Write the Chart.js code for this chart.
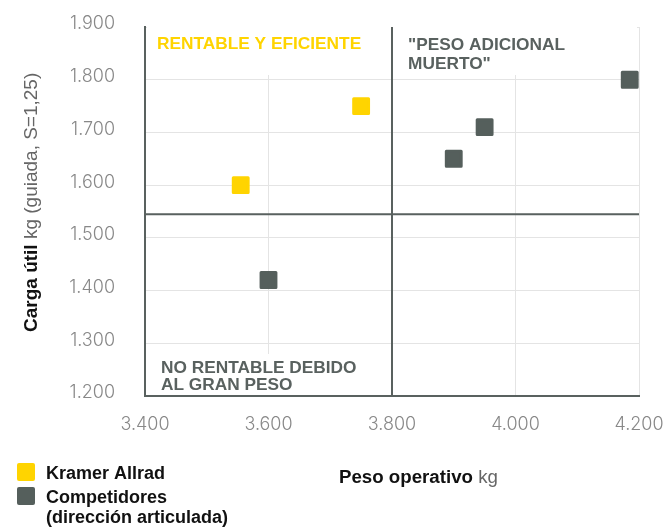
<!DOCTYPE html>
<html><head><meta charset="utf-8">
<script src="https://cdn.jsdelivr.net/npm/chart.js@4"></script>
<style>html,body{margin:0;padding:0;background:#fff}</style>
</head><body>
<canvas id="c" width="665" height="528" style="display:block;width:665px;height:528px"></canvas>
<script>
// ---- data ----
const kramerX = [3555, 3750];
const kramerY = [1600, 1750];
const compX = [3600, 3900, 3950, 4185];
const compY = [1420, 1650, 1710, 1800];
const seriesNames = [['Kramer Allrad'], ['Competidores', '(dirección articulada)']];
const xRange = [3400, 4200];
const xStep = 200;
const yRange = [1200, 1900];
const yStep = 100;
const quadrantX = 3800;
const quadrantY = 1545;
const labelTopLeft = ['RENTABLE Y EFICIENTE'];
const labelTopRight = ['"PESO ADICIONAL', 'MUERTO"'];
const labelBottomLeft = ['NO RENTABLE DEBIDO', 'AL GRAN PESO'];
const yTitle = ['Carga útil', ' kg (guiada, S=1,25)'];
const xTitle = ['Peso operativo', ' kg'];

const YELLOW = '#FFD400';
const GREY = '#555F5C';
const LINE = '#59615F';

function fmt(v) {
  const s = String(Math.round(v));
  return s.replace(/\B(?=(\d{3})+(?!\d))/g, '.');
}

const toPts = (xs, ys) => xs.map((x, i) => ({x, y: ys[i]}));

const overlay = {
  id: 'overlay',
  beforeDatasetsDraw(chart) {
    const ctx = chart.ctx;
    const a = chart.chartArea;
    const xs = chart.scales.x, ys = chart.scales.y;
    const qx = xs.getPixelForValue(quadrantX);
    const qy = ys.getPixelForValue(quadrantY);
    ctx.save();
    ctx.fillStyle = '#fff';
    ctx.fillRect(a.left + 2, a.top - 1, qx - a.left - 3, 49);
    ctx.fillRect(qx + 1, a.top - 1, a.right - qx - 3, 49);
    ctx.fillRect(a.left + 2, a.bottom - 42, qx - a.left - 3, 41);
    ctx.font = 'bold 17.3px "Liberation Sans"';
    ctx.textBaseline = 'alphabetic';
    ctx.fillStyle = YELLOW;
    labelTopLeft.forEach((t, i) => ctx.fillText(t, a.left + 12, a.top + 22 + i * 19));
    ctx.fillStyle = LINE;
    labelTopRight.forEach((t, i) => ctx.fillText(t, qx + 16, a.top + 23 + i * 19));
    labelBottomLeft.forEach((t, i) => ctx.fillText(t, a.left + 16, a.bottom - 23 + i * 17));
    ctx.strokeStyle = LINE;
    ctx.lineWidth = 2;
    ctx.beginPath();
    ctx.moveTo(qx, a.top);
    ctx.lineTo(qx, a.bottom);
    ctx.moveTo(a.left, qy);
    ctx.lineTo(a.right, qy);
    ctx.stroke();
    ctx.restore();
    ctx.lineJoin = 'round';
  },
  afterDraw(chart) {
    const ctx = chart.ctx;
    ctx.save();
    // y title
    ctx.translate(37, 332);
    ctx.rotate(-Math.PI / 2);
    ctx.textBaseline = 'alphabetic';
    ctx.font = 'bold 19px "Liberation Sans"';
    ctx.fillStyle = '#111';
    ctx.fillText(yTitle[0], 0, 0);
    let w = ctx.measureText(yTitle[0]).width;
    ctx.font = '19px "Liberation Sans"';
    ctx.fillStyle = '#666';
    ctx.fillText(yTitle[1], w, 0);
    ctx.restore();
    // x title
    ctx.save();
    ctx.textBaseline = 'alphabetic';
    ctx.font = 'bold 18.7px "Liberation Sans"';
    ctx.fillStyle = '#111';
    ctx.fillText(xTitle[0], 339, 483);
    w = ctx.measureText(xTitle[0]).width;
    ctx.font = '18.7px "Liberation Sans"';
    ctx.fillStyle = '#666';
    ctx.fillText(xTitle[1], 339 + w, 483);
    // legend
    const colors = chart.data.datasets.map(d => d.backgroundColor);
    const tops = [463, 487];
    ctx.font = 'bold 18px "Liberation Sans"';
    ctx.fillStyle = '#111';
    seriesNames.forEach((lines, i) => {
      ctx.save();
      ctx.fillStyle = colors[i];
      ctx.beginPath();
      ctx.roundRect(17, tops[i], 18, 18, 2);
      ctx.fill();
      ctx.restore();
      lines.forEach((t, j) => ctx.fillText(t, 46, tops[i] + 16 + j * 20));
    });
    ctx.restore();
  }
};

new Chart(document.getElementById('c'), {
  type: 'scatter',
  data: {
    datasets: [
      {label: seriesNames[0].join(' '), data: toPts(kramerX, kramerY), backgroundColor: YELLOW, borderColor: YELLOW},
      {label: seriesNames[1].join(' '), data: toPts(compX, compY), backgroundColor: GREY, borderColor: GREY}
    ]
  },
  options: {
    responsive: false,
    animation: false,
    devicePixelRatio: 1,
    layout: {padding: {left: 0, top: 27, right: 26, bottom: 0}},
    elements: {point: {pointStyle: 'rect', radius: 10.5, borderWidth: 3, hoverRadius: 10.5}},
    plugins: {legend: {display: false}, tooltip: {enabled: false}},
    scales: {
      x: {
        type: 'linear', min: xRange[0], max: xRange[1],
        ticks: {stepSize: xStep, padding: 18, color: '#888', font: {family: 'Inter', weight: 300, size: 18}, callback: v => fmt(v)},
        grid: {color: '#e4e4e4', lineWidth: 1, drawTicks: false},
        border: {color: LINE, width: 2},
        afterFit: s => { s.height = 132; s.paddingLeft = 0; s.paddingRight = 0; }
      },
      y: {
        type: 'linear', min: yRange[0], max: yRange[1],
        ticks: {stepSize: yStep, padding: 30, labelOffset: -3, color: '#888', font: {family: 'Inter', weight: 300, size: 18}, callback: v => fmt(v)},
        grid: {color: '#e4e4e4', lineWidth: 1, drawTicks: false},
        border: {color: LINE, width: 2},
        afterFit: s => { s.width = 145; s.paddingTop = 0; s.paddingBottom = 0; }
      }
    }
  },
  plugins: [overlay]
});
</script>
</body></html>
